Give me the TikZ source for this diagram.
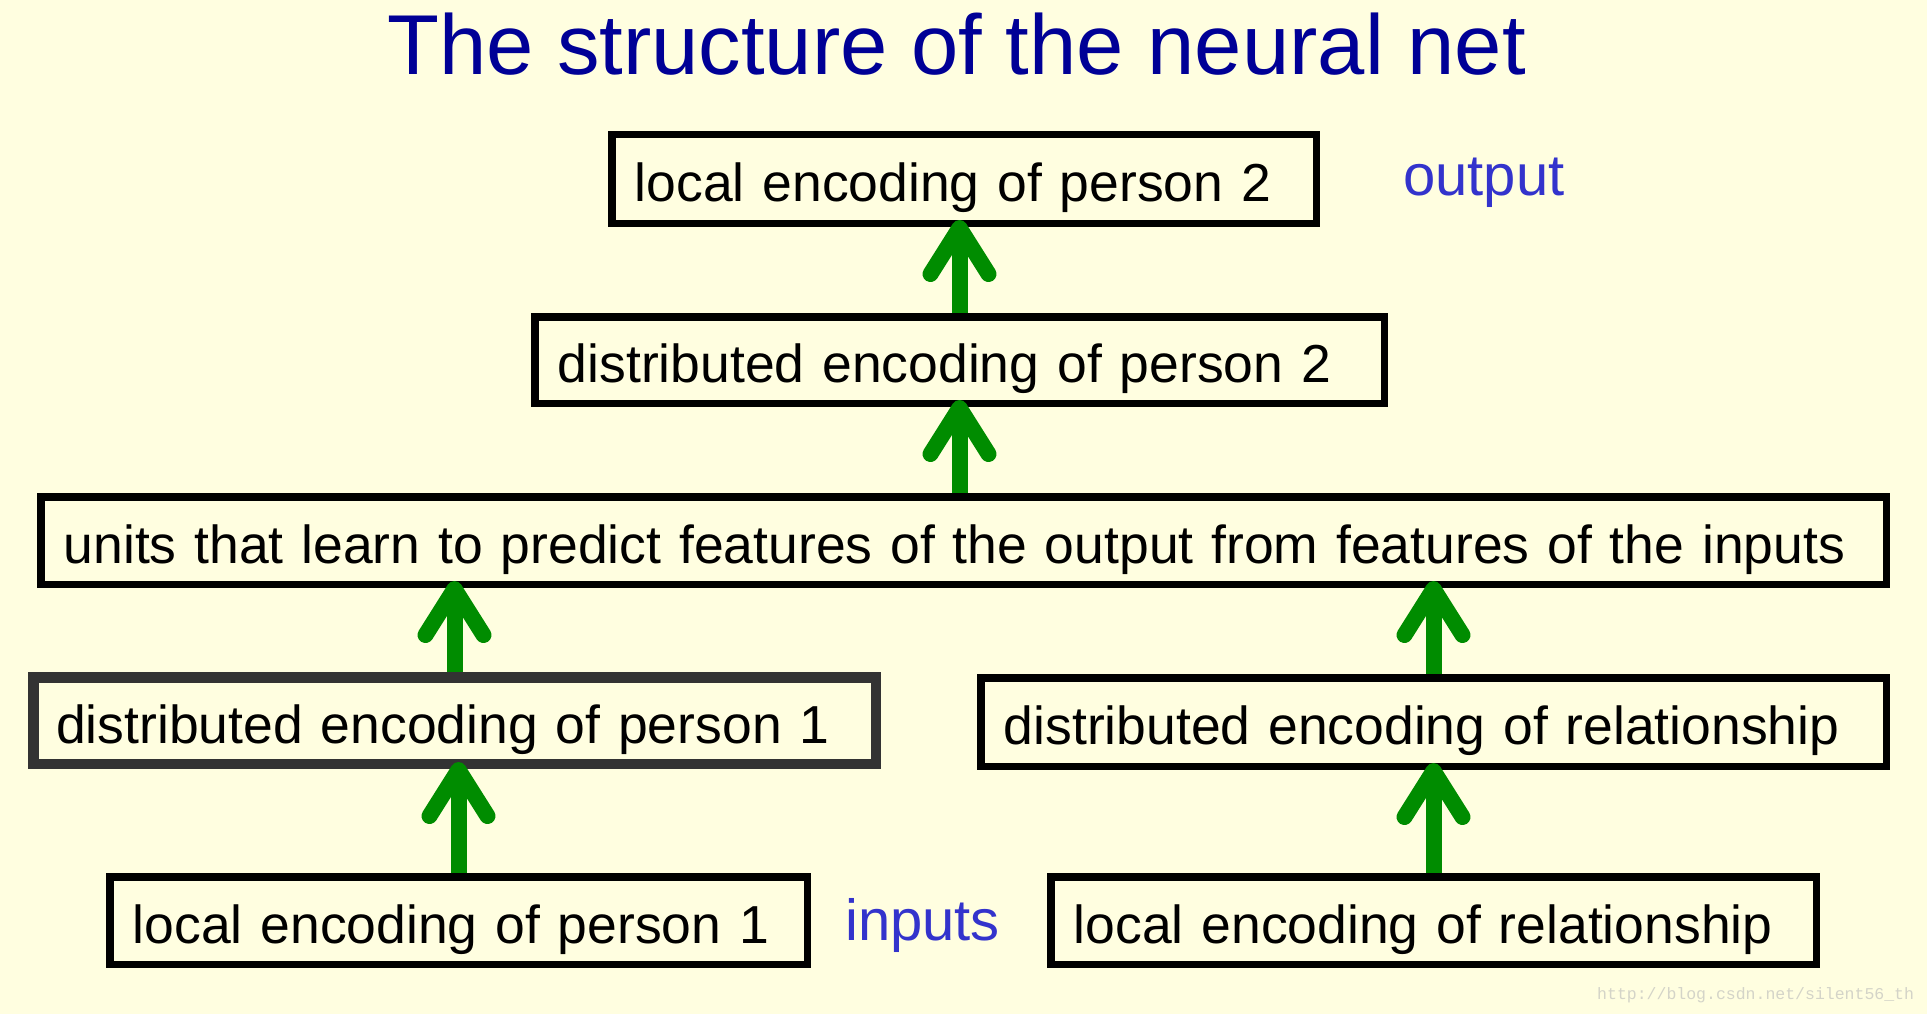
\documentclass[tikz,border=0pt]{standalone}
\usepackage{fontspec}
\setmainfont{Liberation Sans}
\newfontfamily\wmfont{Liberation Mono}
\usepackage{xcolor}
\usepackage{tikz}
\usetikzlibrary{arrows.meta}

\definecolor{bgyellow}{RGB}{255,254,224}
\definecolor{titleblue}{RGB}{0,0,150}
\definecolor{labelblue}{RGB}{51,51,204}
\definecolor{flowgreen}{RGB}{0,140,0}
\definecolor{boxgray}{RGB}{51,51,51}
\definecolor{wmgray}{RGB}{212,212,200}

\begin{document}
\begin{tikzpicture}[x=1pt,y=-1pt,
		encbox/.style={draw=black,line width=7.5pt,inner xsep=23pt,inner ysep=0pt,
			text height=45pt,text depth=0pt,align=left,
			font=\fontsize{53.5}{60}\selectfont},
		upflow/.style={flowgreen,line width=16pt,shorten >=-7pt,
			-{Straight Barb[round,length=46pt,width=58pt]}}]
			
			\fill[bgyellow] (0,0) rectangle (1927,1014);
			\useasboundingbox (0,0) rectangle (1927,1014);
			
			\node[anchor=base,text=titleblue,font=\fontsize{85}{90}\selectfont] (title) at (956.5,75) {The structure of the neural net};
			
			% boxes, top to bottom
			\node[encbox,text width=658.5pt,minimum height=88.5pt] (lop2) at (964,179) {local encoding of person 2};
			\node[encbox,text width=803.5pt,minimum height=86.5pt] (dip2) at (959.5,360) {distributed encoding of person 2};
			\node[encbox,text width=1799.5pt,minimum height=87.5pt] (units) at (963.5,540.5) {units that learn to predict features of the output from features of the inputs};
			\node[encbox,draw=boxgray,line width=10.5pt,text width=796.5pt,minimum height=86.5pt] (dip1) at (454.5,720.5) {distributed encoding of person 1};
			\node[encbox,text width=859.5pt,minimum height=88.5pt] (direl) at (1433.5,722) {distributed encoding of relationship};
			\node[encbox,text width=651.5pt,minimum height=87.5pt] (lop1) at (458.5,920.5) {local encoding of person 1};
			\node[encbox,text width=719.5pt,minimum height=87.5pt] (lorel) at (1433.5,920.5) {local encoding of relationship};
			
			\node[anchor=base west,inner sep=0pt,text=labelblue,font=\fontsize{58}{64}\selectfont] (outlbl) at (1403,195) {output};
			\node[anchor=base west,inner sep=0pt,text=labelblue,font=\fontsize{58}{64}\selectfont] (inlbl) at (845,940) {inputs};
			
			% green arrows
			\draw[upflow] (dip2.north) -- (dip2.north |- lop2.south);
			\draw[upflow] (dip2.south |- units.north) -- (dip2.south);
			\draw[upflow] (dip1.north) -- (dip1.north |- units.south);
			\draw[upflow] (direl.north) -- (direl.north |- units.south);
			\draw[upflow] (lop1.north) -- (lop1.north |- dip1.south);
			\draw[upflow] (lorel.north) -- (lorel.north |- direl.south);
			
			\node[anchor=base west,inner sep=0pt,text=wmgray,font=\wmfont\fontsize{16.5}{18}\selectfont] (wm) at (1597,999) {http://blog.csdn.net/silent56\_th};
		\end{tikzpicture}
\end{document}
